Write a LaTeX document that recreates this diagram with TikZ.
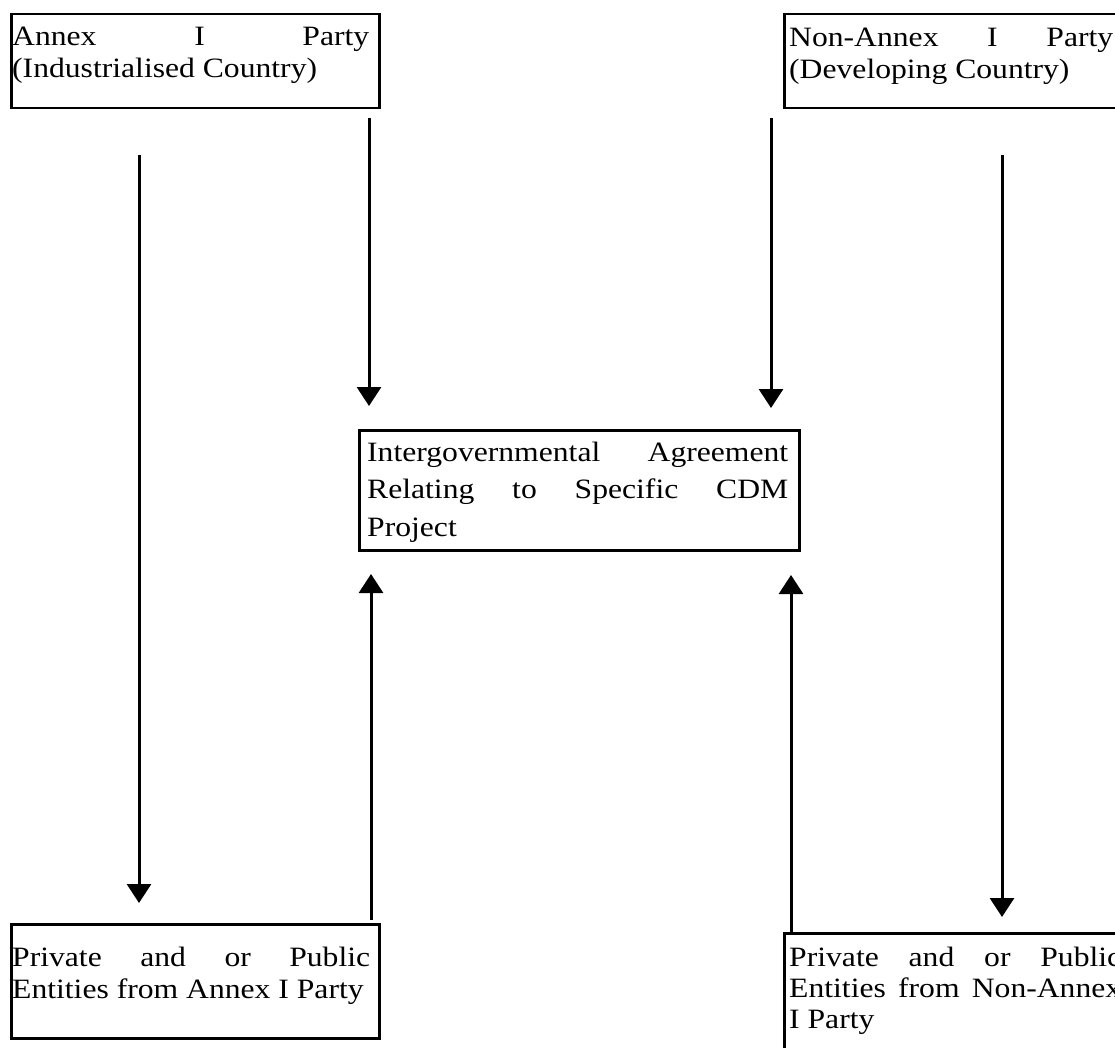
\documentclass[tikz,border=0pt]{standalone}
\usepackage{fontspec}
\setmainfont{Liberation Serif}[FakeStretch=1.13]
\usetikzlibrary{arrows.meta}
\newcommand{\jsetup}{\fontsize{28pt}{32pt}\selectfont\spaceskip=\fontdimen2\font plus 2em minus 0pt\relax\hyphenpenalty=10000\relax\exhyphenpenalty=10000\relax\tolerance=10000\relax\pretolerance=10000\relax\parindent=0pt\relax}
\begin{document}
\begin{tikzpicture}[x=1pt,y=-1pt,
  boxst/.style={draw, line width=2.5pt, inner sep=0pt, anchor=north west},
  txt/.style={inner sep=0pt, anchor=base west, align=justify},
  arr/.style={line width=3pt, -{Triangle[width=24pt,length=19pt]}}]
\useasboundingbox (0,0) rectangle (1115,1048);
\clip (0,0) rectangle (1115,1048);
% boxes
\node[boxst, minimum width=368pt, minimum height=94pt] (A) at (10,13) {};
\node[boxst, minimum width=360pt, minimum height=94pt] (B) at (783,13) {};
\node[boxst, minimum width=440pt, minimum height=120pt] (C) at (358,429) {};
\node[boxst, minimum width=368pt, minimum height=114pt] (D) at (10,923) {};
\node[boxst, minimum width=360pt, minimum height=140pt] (E) at (783,932) {};
% texts
\node[txt, text width=357pt] (At) at (12,46) {\jsetup Annex I Party (Industrialised Country)\par};
\node[txt, text width=324pt] (Bt) at (789,47) {\jsetup Non-Annex I Party (Developing Country)\par};
\node[txt, text width=421pt] (Ct) at (367,461) {\jsetup\baselineskip=37.5pt\relax Intergovernmental Agreement Relating to Specific CDM Project\par};
\node[txt, text width=358pt] (Dt) at (12,966) {\jsetup Private and or Public Entities from Annex I Party\par};
\node[txt, text width=332pt] (Et) at (789,966) {\jsetup\baselineskip=31pt\relax Private and or Public Entities from Non-Annex I Party\par};
% arrow ends
\coordinate (a1s) at (139,155); \coordinate (a1e) at (139,903);
\coordinate (a2s) at (369,118); \coordinate (a2e) at (369,406);
\coordinate (a3s) at (771,118); \coordinate (a3e) at (771,408);
\coordinate (a4s) at (371,920); \coordinate (a4e) at (371,574);
\coordinate (a5s) at (791,932); \coordinate (a5e) at (791,575);
\coordinate (a6s) at (1002,155); \coordinate (a6e) at (1002,917);
\draw[arr] (a1s) -- (a1e);
\draw[arr] (a2s) -- (a2e);
\draw[arr] (a3s) -- (a3e);
\draw[arr] (a4s) -- (a4e);
\draw[arr] (a5s) -- (a5e);
\draw[arr] (a6s) -- (a6e);
\end{tikzpicture}
\end{document}
